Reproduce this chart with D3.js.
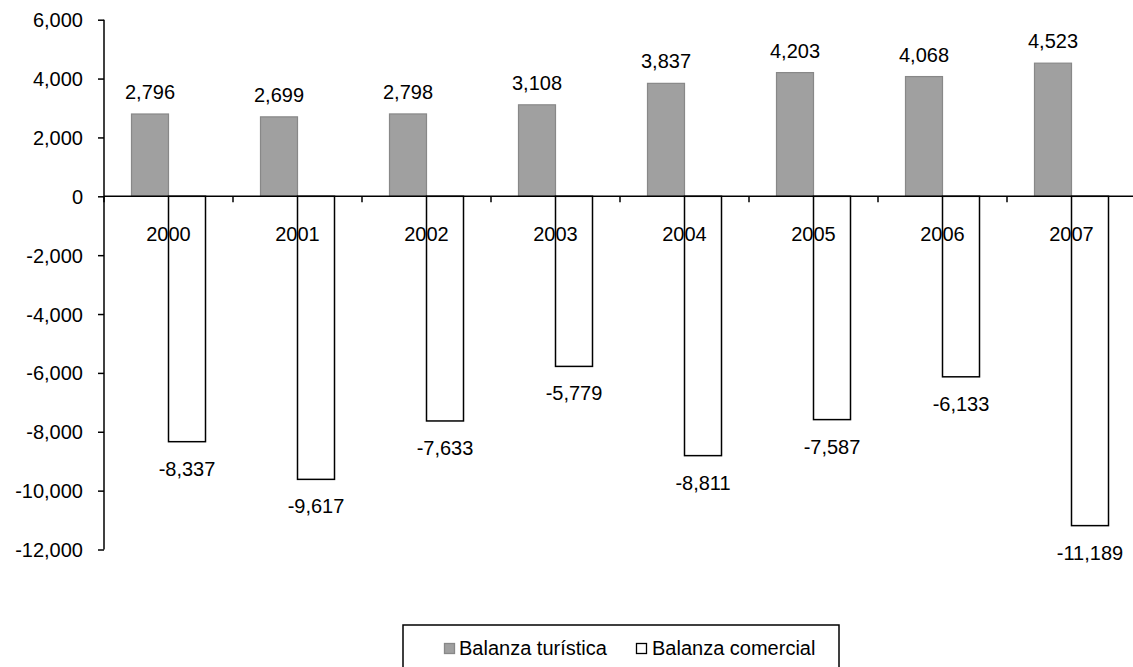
<!DOCTYPE html>
<html><head><meta charset="utf-8">
<script src="https://cdn.jsdelivr.net/npm/d3@7"></script>
<style>body{margin:0;background:#fff}svg{display:block}text{font-family:"Liberation Sans",Arial,sans-serif;fill:#000}</style>
</head><body>
<svg id="c" width="1133" height="667"></svg>
<script>
const years = ["2000","2001","2002","2003","2004","2005","2006","2007"];
const turistica = [2796, 2699, 2798, 3108, 3837, 4203, 4068, 4523];
const comercial = [-8337, -9617, -7633, -5779, -8811, -7587, -6133, -11189];
const yTicks = [6000, 4000, 2000, 0, -2000, -4000, -6000, -8000, -10000, -12000];
const seriesNames = ["Balanza turística", "Balanza comercial"];

const svg = d3.select("#c");
const fmt = d3.formatLocale({decimal: ".", thousands: ",", grouping: [3], currency: ["", ""], minus: "-"}).format(",");
const fs = 20;
const x = d3.scaleBand().domain(years).range([104, 104 + 8 * 129]).paddingInner(0).paddingOuter(0);
const y = d3.scaleLinear().domain([-12000, 6000]).range([549.5, 19.7]);
const bw = 37;

// y axis
const yAxis = svg.append("g").attr("transform", "translate(104,0)")
  .call(d3.axisLeft(y).tickValues(yTicks).tickSize(6).tickPadding(15).tickFormat(fmt));
yAxis.select(".domain").attr("stroke", "#000").attr("stroke-width", 1.5).attr("d", `M0,${y(6000)}V${y(-12000)}`);
yAxis.selectAll(".tick line").attr("stroke", "#000").attr("stroke-width", 1.5);
yAxis.selectAll(".tick text").style("font-size", fs + "px").attr("dy", "0.35em");

// bars
const g = svg.append("g");
g.selectAll("rect.t").data(years).join("rect")
  .attr("x", d => x(d) + x.bandwidth() / 2 - bw)
  .attr("width", bw)
  .attr("y", (d, i) => y(turistica[i]))
  .attr("height", (d, i) => y(0) - y(turistica[i]))
  .attr("fill", "#a0a0a0").attr("stroke", "#888").attr("stroke-width", 1.2);
g.selectAll("rect.c").data(years).join("rect")
  .attr("x", d => x(d) + x.bandwidth() / 2)
  .attr("width", bw)
  .attr("y", y(0))
  .attr("height", (d, i) => y(comercial[i]) - y(0))
  .attr("fill", "#fff").attr("stroke", "#000").attr("stroke-width", 1.5);

// x axis
const xAxis = svg.append("g").attr("transform", `translate(0,${y(0)})`);
xAxis.append("line").attr("x1", 104).attr("x2", 1133).attr("stroke", "#000").attr("stroke-width", 1.5);
xAxis.selectAll("line.tk").data(d3.range(0, 9)).join("line")
  .attr("x1", i => 104 + i * x.bandwidth()).attr("x2", i => 104 + i * x.bandwidth())
  .attr("y1", 0).attr("y2", 6).attr("stroke", "#000").attr("stroke-width", 1.5);
xAxis.selectAll("text").data(years).join("text")
  .attr("x", d => x(d) + x.bandwidth() / 2).attr("y", 45)
  .attr("text-anchor", "middle").style("font-size", fs + "px").text(d => d);

// value labels
g.selectAll("text.t").data(years).join("text")
  .attr("x", d => x(d) + x.bandwidth() / 2 - bw / 2)
  .attr("y", (d, i) => y(turistica[i]) - 15)
  .attr("text-anchor", "middle").style("font-size", fs + "px")
  .text((d, i) => fmt(turistica[i]));
svg.append("g").selectAll("text").data(years).join("text")
  .attr("x", d => x(d) + x.bandwidth() / 2 + bw / 2)
  .attr("y", (d, i) => y(comercial[i]) + 34)
  .attr("text-anchor", "middle").style("font-size", fs + "px")
  .text((d, i) => fmt(comercial[i]));

// legend
const lg = svg.append("g");
lg.append("rect").attr("x", 403).attr("y", 625).attr("width", 436).attr("height", 60)
  .attr("fill", "none").attr("stroke", "#000").attr("stroke-width", 1.5);
const items = [{n: seriesNames[0], fill: "#a0a0a0", stroke: "#888", sx: 444, tx: 459},
               {n: seriesNames[1], fill: "#fff", stroke: "#000", sx: 636, tx: 652}];
items.forEach(it => {
  lg.append("rect").attr("x", it.sx + 0.5).attr("y", 643.5).attr("width", 10).attr("height", 10)
    .attr("fill", it.fill).attr("stroke", it.stroke).attr("stroke-width", 1.3);
  lg.append("text").attr("x", it.tx).attr("y", 655).style("font-size", fs + "px").text(it.n);
});
</script>
</body></html>
